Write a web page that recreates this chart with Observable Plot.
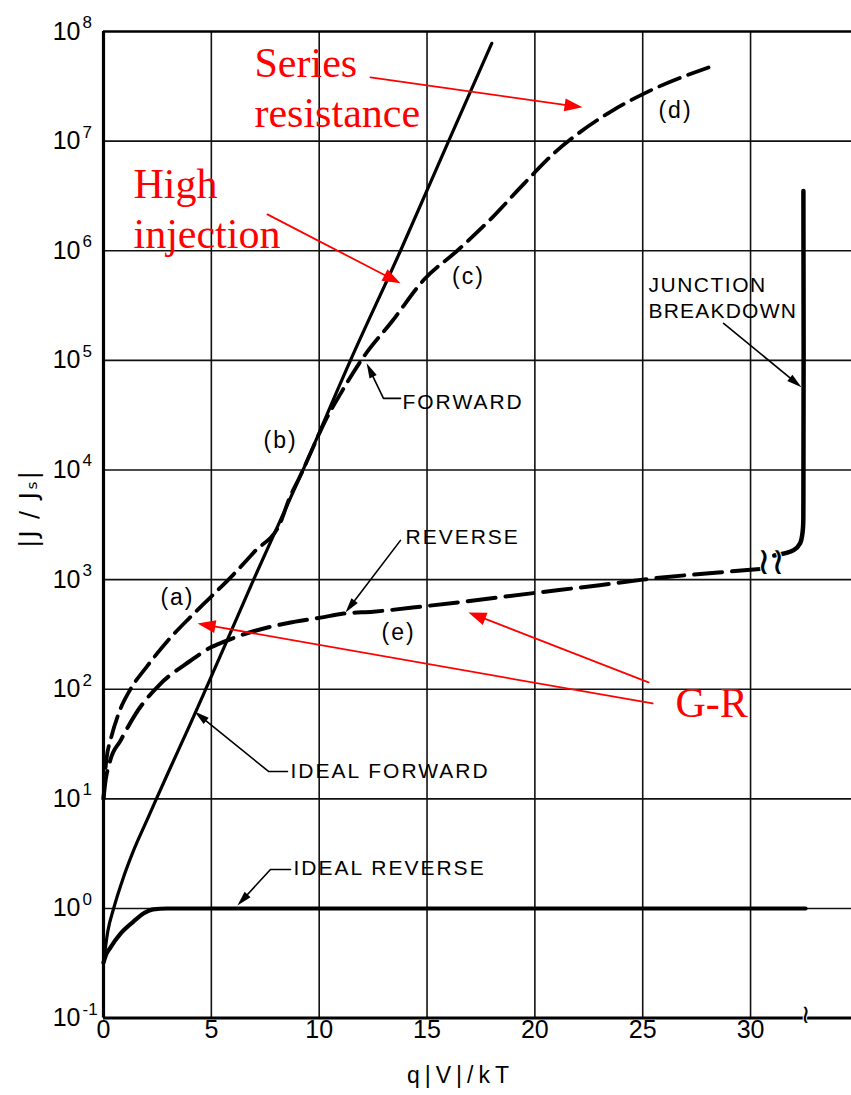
<!DOCTYPE html>
<html><head><meta charset="utf-8">
<script src="https://cdn.jsdelivr.net/npm/d3@7"></script>
<script src="https://cdn.jsdelivr.net/npm/@observablehq/plot@0.6"></script>
<style>body{margin:0;background:#fff}</style>
</head><body><div id="chart"></div>
<script>
// ---------- axes ----------
const xTicks = [0, 5, 10, 15, 20, 25, 30];
const yExponents = [-1, 0, 1, 2, 3, 4, 5, 6, 7, 8];
const xDomain = [0, 34.68];
const yDomain = [0.1, 1e8];

// ---------- curves ----------
const idealForwardX = [0, 0.2, 0.47, 0.9, 1.4, 2.0, 2.4, 3.0, 4.0, 4.67, 6.96, 9.25, 11.45, 13.77, 16.0, 18.0];
const idealForwardY = [0.32, 0.62, 1.0, 1.86, 3.4, 6.3, 9.5, 17.4, 47, 93, 1000, 1e4, 1e5, 1e6, 1e7, 7.8e7];

const idealReverseX = [0, 0.1, 0.32, 0.79, 1.39, 1.85, 2.3, 2.95, 32.55];
const idealReverseY = [0.32, 0.37, 0.44, 0.59, 0.76, 0.9, 0.98, 1.0, 1.0];

const forwardX = [0, 0.03, 0.15, 0.32, 0.7, 1.25, 2, 3, 4, 4.96, 6, 7, 8.2, 8.6, 9.13, 9.7, 10.3, 11.0, 12.05, 13.4, 14.84, 16.4, 17.9, 19.5, 20.9, 22.0, 23.6, 25.2, 28.05];
const forwardY = [10, 13, 24, 34, 60, 100, 160, 280, 450, 690, 1100, 1800, 3300, 5400, 8900, 1.58e4, 2.85e4, 5.0e4, 1.07e5, 2.3e5, 5.4e5, 1.0e6, 1.9e6, 4.1e6, 7.8e6, 1.17e7, 1.9e7, 2.8e7, 4.7e7];

const reverseX = [0, 0.05, 0.3, 0.79, 1.5, 2.64, 4, 4.96, 5.56, 7, 8.5, 10.06, 11.13, 12.5, 15, 20.1, 23, 25, 30, 30.6];
const reverseY = [10, 12.5, 22, 34, 60, 112, 180, 240, 270, 340, 400, 450, 490, 510, 575, 760, 890, 1000, 1230, 1260];

const breakdownX = [31.1, 32.0, 32.3, 32.42, 32.45, 32.45];
const breakdownY = [1660, 1860, 2150, 2800, 5000, 3.5e6];

// ---------- annotations (data units) ----------
const curveLabels = [
  {text: "(a)", x: 3.43, y: 10 ** 2.84},
  {text: "(b)", x: 8.21, y: 10 ** 4.27},
  {text: "(c)", x: 16.92, y: 10 ** 5.76},
  {text: "(d)", x: 26.52, y: 10 ** 7.28},
  {text: "(e)", x: 13.68, y: 10 ** 2.52}
];
const letteringLabels = [
  {text: "FORWARD", x: 13.86, y: 10 ** 4.62},
  {text: "REVERSE", x: 14.0, y: 10 ** 3.385},
  {text: "JUNCTION", x: 25.27, y: 10 ** 5.684},
  {text: "BREAKDOWN", x: 25.27, y: 10 ** 5.447},
  {text: "IDEAL FORWARD", x: 8.67, y: 10 ** 1.25},
  {text: "IDEAL REVERSE", x: 8.81, y: 10 ** 0.365}
];
const leaders = [
  [[13.77, 10 ** 4.653], [12.98, 10 ** 4.653], [12.2, 10 ** 4.973]],
  [[13.77, 10 ** 3.358], [11.22, 10 ** 2.70]],
  [[28.75, 10 ** 5.338], [32.36, 10 ** 4.754]],
  [[8.53, 10 ** 1.25], [7.65, 10 ** 1.25], [4.22, 10 ** 1.797]],
  [[8.67, 10 ** 0.356], [7.74, 10 ** 0.356], [6.21, 10 ** 0.027]]
];
const redLabels = [
  {text: "Series", x: 7.0, y: 10 ** 7.582},
  {text: "resistance", x: 7.0, y: 10 ** 7.126},
  {text: "High", x: 1.39, y: 10 ** 6.478},
  {text: "injection", x: 1.39, y: 10 ** 6.022},
  {text: "G-R", x: 26.52, y: 10 ** 1.743}
];
const redArrows = [
  [[12.38, 10 ** 7.582], [22.21, 10 ** 7.308]],
  [[7.60, 10 ** 6.332], [13.77, 10 ** 5.703]],
  [[25.46, 10 ** 1.870], [4.36, 10 ** 2.600]],
  [[25.27, 10 ** 2.062], [16.92, 10 ** 2.701]]
];
const breakMarks = [
  {text: "≀≀", x: 30.95, y: 10 ** 3.16, size: 38},
  {text: "≀", x: 32.55, y: 10 ** -0.97, size: 26}
];

// ---------- build ----------
const xRange = [103, 851];
const yRange = [1017.6, 31];
const sx = Plot.scale({x: {domain: xDomain, range: xRange}});
const sy = Plot.scale({y: {type: "log", domain: yDomain, range: yRange}});

const zip = (xs, ys) => xs.map((x, i) => ({x, y: ys[i]}));

function headSymbol(ang, len, wid) {
  return {
    draw(ctx) {
      const c = Math.cos(ang), s = Math.sin(ang);
      const bx = -len * c, by = -len * s;
      const px = -s * wid / 2, py = c * wid / 2;
      ctx.moveTo(0, 0);
      ctx.lineTo(bx + px, by + py);
      ctx.lineTo(bx - px, by - py);
      ctx.closePath();
    }
  };
}

function arrowMarks(pts, color, sw, len, wid) {
  const data = pts.map(([x, y]) => ({x, y}));
  const n = data.length;
  const a = data[n - 2], b = data[n - 1];
  const ax = sx.apply(a.x), ay = sy.apply(a.y), bx = sx.apply(b.x), by = sy.apply(b.y);
  const ang = Math.atan2(by - ay, bx - ax);
  const cut = len * 0.7;
  const ex = bx - cut * Math.cos(ang), ey = by - cut * Math.sin(ang);
  const shaft = data.slice(0, n - 1).concat([{x: sx.invert(ex), y: sy.invert(ey)}]);
  return [
    Plot.line(shaft, {x: "x", y: "y", stroke: color, strokeWidth: sw}),
    Plot.dot([b], {x: "x", y: "y", symbol: headSymbol(ang, len, wid), fill: color, stroke: "none", r: 4})
  ];
}

const inner = yExponents.filter(e => e > -1 && e < 8).map(e => 10 ** e);

const plot = Plot.plot({
  width: 851,
  height: 1095,
  marginLeft: 103, marginRight: 0, marginTop: 31, marginBottom: 77.4,
  x: {domain: xDomain, range: xRange, axis: null},
  y: {type: "log", domain: yDomain, range: yRange, axis: null},
  style: {background: "white", overflow: "visible"},
  marks: [
    // grid
    Plot.ruleX(xTicks.filter(d => d > 0), {stroke: "#111", strokeWidth: 1.6}),
    Plot.ruleY(inner, {stroke: "#111", strokeWidth: 1.6}),
    // frame
    Plot.ruleY([1e8], {stroke: "#000", strokeWidth: 2.6}),
    Plot.ruleY([0.1], {stroke: "#000", strokeWidth: 3}),
    Plot.ruleX([0], {stroke: "#000", strokeWidth: 3.2}),
    // curves
    Plot.line(zip(idealReverseX, idealReverseY), {x: "x", y: "y", stroke: "#000", strokeWidth: 4.2, curve: "monotone-x"}),
    Plot.line(zip(idealForwardX, idealForwardY), {x: "x", y: "y", stroke: "#000", strokeWidth: 3.2, curve: "monotone-x"}),
    Plot.line(zip(forwardX, forwardY), {x: "x", y: "y", stroke: "#000", strokeWidth: 3.8, strokeDasharray: "22,9", curve: "monotone-x"}),
    Plot.line(zip(reverseX, reverseY), {x: "x", y: "y", stroke: "#000", strokeWidth: 4, strokeDasharray: "28,10", curve: "monotone-x"}),
    Plot.line(zip(breakdownX, breakdownY), {x: "x", y: "y", stroke: "#000", strokeWidth: 4.5, curve: "catmull-rom"}),
    Plot.text(breakMarks, {x: "x", y: "y", text: "text", fontSize: d => d.size, fontFamily: "DejaVu Sans", fill: "#000", stroke: "white", strokeWidth: 2, paintOrder: "stroke"}),
    // black leaders
    ...leaders.flatMap(p => arrowMarks(p, "#000", 1.6, 15, 8)),
    // tick labels
    Plot.text(yExponents, {y: e => 10 ** e, frameAnchor: "left", dx: -23, text: () => "10", textAnchor: "end", fontSize: 25, fontFamily: "Liberation Sans", fill: "#000"}),
    Plot.text(yExponents, {y: e => 10 ** e, frameAnchor: "left", dx: -21, dy: -9, text: e => String(e), textAnchor: "start", fontSize: 17, fontFamily: "Liberation Sans", fill: "#000"}),
    Plot.text(xTicks, {x: d => d, frameAnchor: "bottom", dy: 20, text: d => String(d), fontSize: 25, fontFamily: "Liberation Sans", fill: "#000"}),
    Plot.text(["q|V|/kT"], {x: () => 16.55, frameAnchor: "bottom", dy: 65, fontSize: 23, fontFamily: "Liberation Sans", fill: "#000"}),
    Plot.text(["|J / Jₛ|"], {x: () => -3.43, y: () => 10 ** 3.65, rotate: -90, fontSize: 24, fontFamily: "DejaVu Sans", fill: "#000"}),
    // black labels
    Plot.text(curveLabels, {x: "x", y: "y", text: "text", fontSize: 23, fontFamily: "Liberation Sans", fill: "#000"}),
    Plot.text(letteringLabels, {x: "x", y: "y", text: "text", textAnchor: "start", fontSize: 21, fontFamily: "Liberation Sans", fill: "#000"}),
    // red annotations
    ...redArrows.flatMap(p => arrowMarks(p, "#ff0000", 1.8, 18, 13)),
    Plot.text(redLabels, {x: "x", y: "y", text: "text", textAnchor: "start", lineAnchor: "bottom", fontSize: 42, fontFamily: "Liberation Serif", fill: "#ff0000"})
  ]
});

// letter spacing for the hand-lettered labels
const spacing = new Map([
  ...letteringLabels.map(d => [d.text, 2]),
  ...curveLabels.map(d => [d.text, 2]),
  ["JUNCTION", 1.5],
  ["BREAKDOWN", 1.2],
  ["q|V|/kT", 5],
  ["|J / Jₛ|", 2]
]);
d3.select(plot).selectAll("text").each(function () {
  const s = spacing.get(this.textContent);
  if (s) this.setAttribute("letter-spacing", s);
});
document.getElementById("chart").appendChild(plot);
</script>
</body></html>
